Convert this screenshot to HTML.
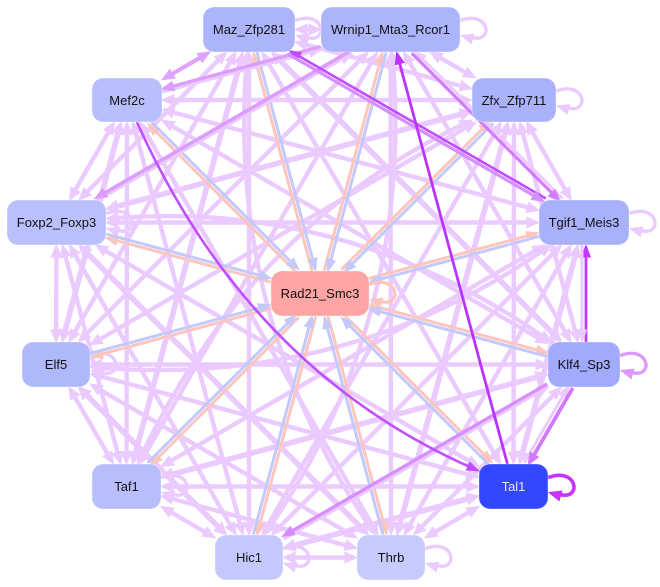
<!DOCTYPE html>
<html><head><meta charset="utf-8">
<style>
html,body{margin:0;padding:0;background:#fff;width:660px;height:587px;overflow:hidden}
svg{display:block}
text{font-family:"Liberation Sans",Arial,sans-serif;font-size:13px;text-anchor:middle;fill:#111}
</style></head><body>
<svg id="g" width="660" height="587" viewBox="0 0 660 587" xmlns="http://www.w3.org/2000/svg">
<rect width="660" height="587" fill="#fff"/>
<g id="edges"></g>
<g id="nodes" stroke="#ffffff" stroke-opacity="0.35" stroke-width="1">
<rect x="203" y="7" width="92" height="45" rx="11" fill="#acb5fc"/>
<rect x="321" y="7" width="139" height="45" rx="11" fill="#acb4fc"/>
<rect x="92" y="78" width="70" height="44" rx="11" fill="#b7bffc"/>
<rect x="472" y="78" width="84" height="44" rx="11" fill="#aab2fc"/>
<rect x="7" y="200" width="99" height="45" rx="11" fill="#b9c0fc"/>
<rect x="539" y="200" width="90" height="45" rx="11" fill="#a9b1fc"/>
<rect x="271" y="271" width="98" height="45" rx="11" fill="#fca5a4"/>
<rect x="22" y="342" width="68" height="45" rx="11" fill="#b0b8fc"/>
<rect x="548" y="342" width="72" height="45" rx="11" fill="#a1aafc"/>
<rect x="92" y="464" width="69" height="45" rx="11" fill="#b8befc"/>
<rect x="479" y="464" width="69" height="45" rx="11" fill="#3347fe"/>
<rect x="215" y="535" width="68" height="45" rx="11" fill="#c3c9fc"/>
<rect x="357" y="535" width="68" height="45" rx="11" fill="#c6cbfc"/>
</g>
<g id="labels">
<text x="249" y="34">Maz_Zfp281</text>
<text x="390.5" y="34">Wrnip1_Mta3_Rcor1</text>
<text x="127" y="105">Mef2c</text>
<text x="514" y="105">Zfx_Zfp711</text>
<text x="56.5" y="227">Foxp2_Foxp3</text>
<text x="584" y="227">Tgif1_Meis3</text>
<text x="320" y="298">Rad21_Smc3</text>
<text x="56" y="369">Elf5</text>
<text x="584" y="369">Klf4_Sp3</text>
<text x="126.5" y="491">Taf1</text>
<text x="513.5" y="491" style="fill:#e4e6ff">Tal1</text>
<text x="249" y="562">Hic1</text>
<text x="391" y="562">Thrb</text>
</g>
</svg>
<script>
(function(){
var N={Maz:[249,29.5,46,22.5],Wrn:[390.5,29.5,69.5,22.5],Mef:[127,100,35,22],Zfx:[514,100,42,22],Fox:[56.5,222.5,49.5,22.5],Tgi:[584,222.5,45,22.5],Elf:[56,364.5,34,22.5],Klf:[584,364.5,36,22.5],Taf:[126.5,486.5,34.5,22.5],Tal:[513.5,486.5,34.5,22.5],Hic:[249,557.5,34,22.5],Thr:[391,557.5,34,22.5],Rad:[320,293.5,49,22.5]};
var outer=['Maz','Wrn','Zfx','Tgi','Klf','Tal','Thr','Hic','Taf','Elf','Fox','Mef'];
var E=document.getElementById('edges'),NS='http://www.w3.org/2000/svg';
var LC='#ebcbff';
var AL=12;
function el(t,at){var e=document.createElementNS(NS,t);for(var k in at)e.setAttribute(k,at[k]);E.appendChild(e);return e;}
function bp(n,dx,dy){var c=N[n],a=c[2],b=c[3];var l=Math.hypot(dx,dy);dx/=l;dy/=l;
 var t=Math.min(Math.abs(dx)>1e-9?a/Math.abs(dx):1e9,Math.abs(dy)>1e-9?b/Math.abs(dy):1e9);
 return [c[0]+dx*t,c[1]+dy*t];}
function arrow(tip,ux,uy,col,L,W){var bx=tip[0]-ux*L,by=tip[1]-uy*L;var px=-uy,py=ux;
 el('polygon',{points:[tip[0],tip[1],bx+px*W,by+py*W,bx-px*W,by-py*W].join(' '),fill:col,stroke:col,'stroke-width':1,'stroke-linejoin':'miter'});}
function line(a,b,o,col,w,arrA,arrB,colA,colB){
 var A=N[a],B=N[b];var dx=B[0]-A[0],dy=B[1]-A[1];var l=Math.hypot(dx,dy);var ux=dx/l,uy=dy/l;var px=-uy*o,py=ux*o;
 var p=bp(a,dx,dy),q=bp(b,-dx,-dy);
 p=[p[0]+px,p[1]+py];q=[q[0]+px,q[1]+py];
 var L=AL-1;
 var s=arrA?[p[0]+ux*L,p[1]+uy*L]:p,e=arrB?[q[0]-ux*L,q[1]-uy*L]:q;
 el('line',{x1:s[0],y1:s[1],x2:e[0],y2:e[1],stroke:col,'stroke-width':w});
 if(arrB)arrow(q,ux,uy,colB||col,AL,w*0.5+3);
 if(arrA)arrow(p,-ux,-uy,colA||col,AL,w*0.5+3);}
function curve(a,b,side,col,w,arrA,arrB,off){
 off=off||100;
 var A=N[a],B=N[b];var mx=(A[0]+B[0])/2,my=(A[1]+B[1])/2;var dx=B[0]-A[0],dy=B[1]-A[1];var l=Math.hypot(dx,dy);
 var cx=mx+(-dy/l)*off*side,cy=my+(dx/l)*off*side;
 var p=bp(a,cx-A[0],cy-A[1]),q=bp(b,cx-B[0],cy-B[1]);
 var L=AL-1;
 var uqx=q[0]-cx,uqy=q[1]-cy,lq=Math.hypot(uqx,uqy);uqx/=lq;uqy/=lq;
 var upx=p[0]-cx,upy=p[1]-cy,lp=Math.hypot(upx,upy);upx/=lp;upy/=lp;
 var s=arrA?[p[0]-upx*L,p[1]-upy*L]:p,e=arrB?[q[0]-uqx*L,q[1]-uqy*L]:q;
 el('path',{d:'M'+s[0]+','+s[1]+' Q'+cx+','+cy+' '+e[0]+','+e[1],fill:'none',stroke:col,'stroke-width':w});
 if(arrB)arrow(q,uqx,uqy,col,AL,w*0.5+3);
 if(arrA)arrow(p,upx,upy,col,AL,w*0.5+3);}
function loop(n,col,w){var c=N[n];var R=c[0]+c[2],y=c[1];
 el('path',{d:'M'+R+','+(y-9)+' C'+(R+30)+','+(y-20)+' '+(R+34)+','+(y+14)+' '+(R+12)+','+(y+8),fill:'none',stroke:col,'stroke-width':w});
 arrow([R+1,y+6],-0.96,-0.28,col,12,w*0.5+3.2);}
var special={'Wrn-Tal':1,'Tgi-Klf':1,'Klf-Tal':1,'Maz-Tgi':1,'Wrn-Tgi':1,'Wrn-Fox':1,'Wrn-Mef':1,'Maz-Mef':1,'Klf-Hic':1};
var diaSide={'Maz-Thr':1,'Wrn-Hic':-1,'Zfx-Taf':1,'Tgi-Elf':-1,'Klf-Fox':1,'Tal-Mef':0};
['Maz','Wrn','Zfx','Tgi','Thr','Hic','Fox','Taf','Elf'].forEach(function(n){loop(n,LC,3.4);});
for(var i=0;i<12;i++)for(var j=i+1;j<12;j++){
 var a=outer[i],b=outer[j],k=a+'-'+b;
 if(special[k])continue;
 if(j-i===6){ if(k==='Tal-Mef')continue; curve(a,b,diaSide[k],LC,4.4,true,true,96); continue;}
 var w=((i*7+j*3)%4===0)?5.6:4.4;
 line(a,b,0,LC,w,true,true);
}
outer.forEach(function(n){
 line(n,'Rad',1.8,'#fcc6be',3,true,false);
 line(n,'Rad',-1.8,'#c4c9fb',3,false,true);
});
loop('Rad','#fcc6be',3.2);
line('Wrn','Fox',-1.5,LC,3,true,false);
line('Wrn','Fox',1.5,'#dd9cff',3.6,false,true);
line('Wrn','Mef',-1.5,LC,3,true,false);
line('Wrn','Mef',1.5,'#dd9cff',3.4,false,true);
line('Maz','Mef',0,'#dea4ff',4.2,true,true);
line('Klf','Hic',-1.5,LC,3,true,false);
line('Klf','Hic',1.5,'#d98eff',3.4,false,true);
line('Wrn','Tgi',-1.8,LC,3,true,false);
line('Wrn','Tgi',1.8,'#d27cff',3.2,false,true);
line('Maz','Tgi',-1.8,'#c24cff',2.6,true,false);
line('Maz','Tgi',1.8,'#d590ff',3.2,false,true);
line('Klf','Tal',2.5,LC,3,true,false);
line('Klf','Tal',-2,'#d27aff',3.8,false,true);
line('Tgi','Klf',-2,'#c23cff',2.8,true,false);
line('Tgi','Klf',2,LC,3,false,true);
line('Tal','Wrn',0,'#bb33ff',2.8,false,true);
curve('Mef','Tal',1,'#c050ff',2.6,false,true,104);
loop('Klf','#dd99ff',3.4);
loop('Tal','#c933ff',3.6);
})();
</script>
</body></html>
